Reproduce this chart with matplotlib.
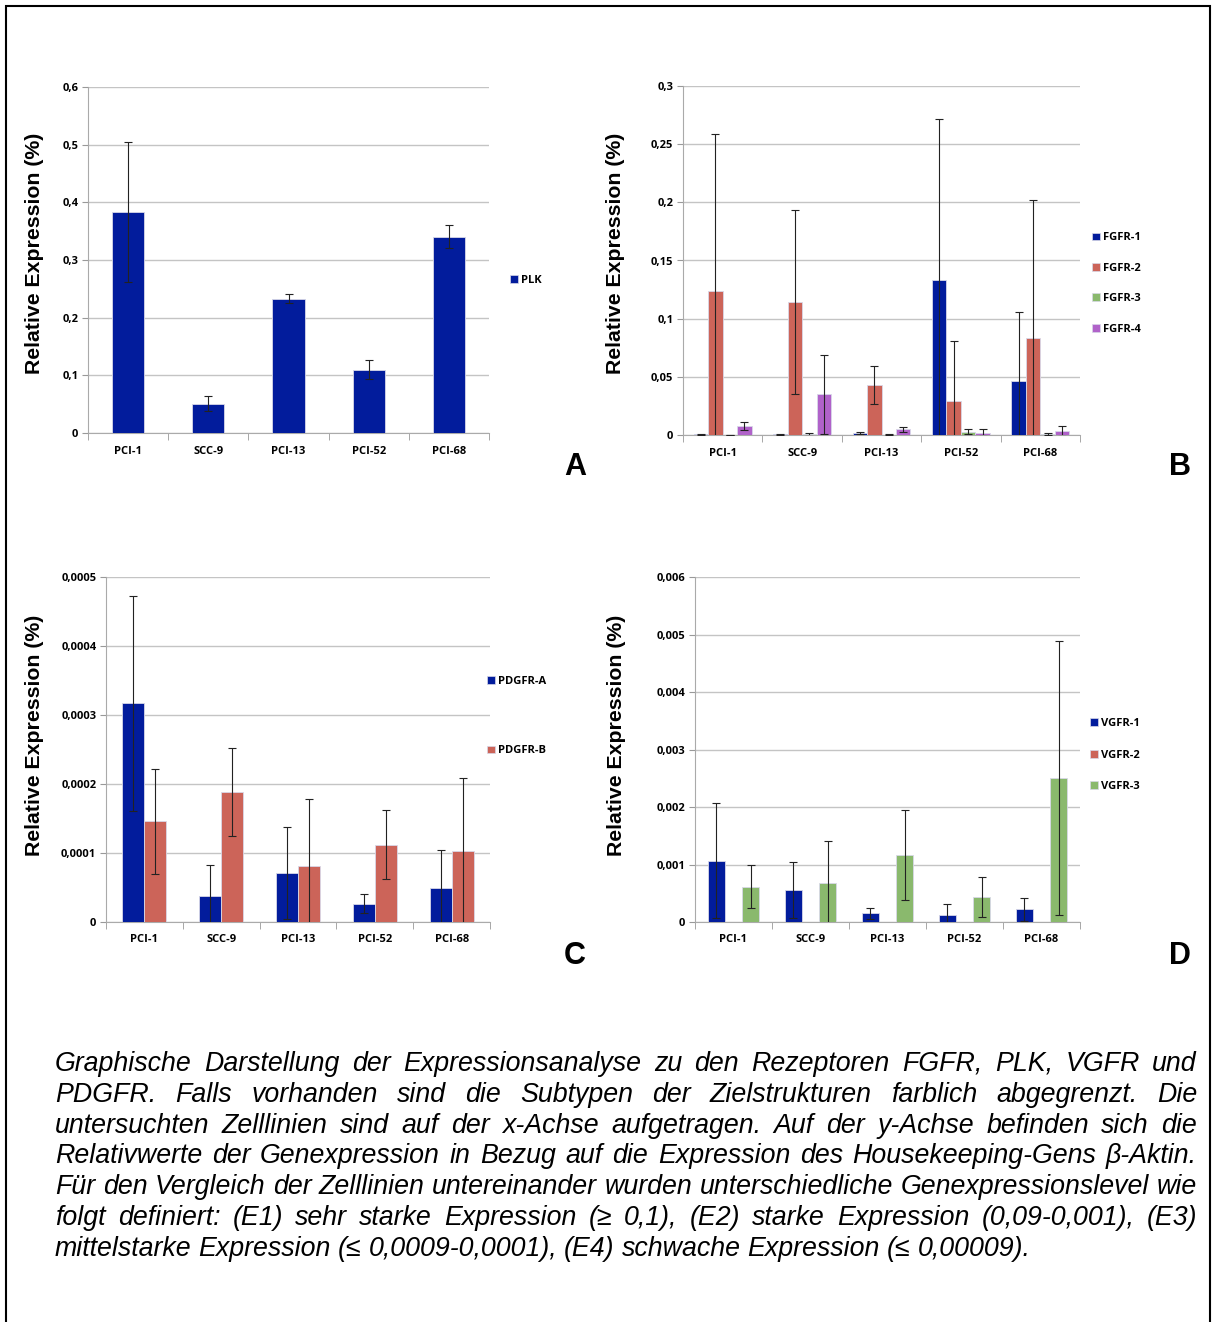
import numpy as np
import matplotlib
matplotlib.use('Agg')
import matplotlib.pyplot as plt
from matplotlib.patches import Rectangle, Patch
from matplotlib.ticker import FuncFormatter, MultipleLocator

# Zelllinien (x-Achse)
cell_lines = ['PCI-1', 'SCC-9', 'PCI-13', 'PCI-52', 'PCI-68']

# Panel A - PLK
plk = [0.383, 0.051, 0.233, 0.110, 0.340]
plk_err = [0.121, 0.013, 0.008, 0.017, 0.020]

# Panel B - FGFR 1-4
fgfr_names = ['FGFR-1', 'FGFR-2', 'FGFR-3', 'FGFR-4']
fgfr1 = [0.0008, 0.0005, 0.0015, 0.1334, 0.046]
fgfr1_err = [0.0004, 0.0003, 0.0010, 0.138, 0.060]
fgfr2 = [0.1237, 0.1143, 0.0429, 0.0294, 0.0837]
fgfr2_err = [0.135, 0.079, 0.016, 0.051, 0.1186]
fgfr3 = [0.0, 0.0005, 0.0003, 0.0030, 0.0008]
fgfr3_err = [0.0, 0.0015, 0.0002, 0.0025, 0.0005]
fgfr4 = [0.0077, 0.0351, 0.0050, 0.0020, 0.0034]
fgfr4_err = [0.0033, 0.034, 0.0020, 0.0030, 0.0040]

# Panel C - PDGFR A/B
pdgfr_names = ['PDGFR-A', 'PDGFR-B']
pdgfr_a = [0.000317, 0.0000381, 0.0000714, 0.0000265, 0.0000492]
pdgfr_a_err = [0.000156, 0.000044, 0.000067, 0.000014, 0.000055]
pdgfr_b = [0.0001458, 0.0001887, 0.0000806, 0.000112, 0.0001023]
pdgfr_b_err = [0.0000757, 0.0000637, 0.000098, 0.00005, 0.000107]

# Panel D - VGFR 1-3
vgfr_names = ['VGFR-1', 'VGFR-2', 'VGFR-3']
vgfr1 = [0.001065, 0.000555, 0.000150, 0.000122, 0.000226]
vgfr1_err = [0.001, 0.00049, 0.000093, 0.00019, 0.0002]
vgfr2 = [0.0, 0.0, 0.0, 0.0, 0.0]
vgfr2_err = [0.0, 0.0, 0.0, 0.0, 0.0]
vgfr3 = [0.000613, 0.000677, 0.001169, 0.000434, 0.0025]
vgfr3_err = [0.000376, 0.000735, 0.00078, 0.000353, 0.00238]

caption_lines = [
    'Graphische Darstellung der Expressionsanalyse zu den Rezeptoren FGFR, PLK, VGFR und',
    'PDGFR. Falls vorhanden sind die Subtypen der Zielstrukturen farblich abgegrenzt. Die',
    'untersuchten Zelllinien sind auf der x-Achse aufgetragen. Auf der y-Achse befinden sich die',
    'Relativwerte der Genexpression in Bezug auf die Expression des Housekeeping-Gens \u03b2-Aktin.',
    'F\u00fcr den Vergleich der Zelllinien untereinander wurden unterschiedliche Genexpressionslevel wie',
    'folgt definiert: (E1) sehr starke Expression (\u2265 0,1), (E2) starke Expression (0,09-0,001), (E3)',
    'mittelstarke Expression (\u2264 0,0009-0,0001), (E4) schwache Expression (\u2264 0,00009).',
]

BLUE = '#021c9c'
RED = '#cc6459'
GREEN = '#8ab96d'
PURPLE = '#b062c9'

W, H = 1212, 1322
fig = plt.figure(figsize=(W / 100, H / 100), dpi=100)

def px_axes(left, top, right, bottom):
    return fig.add_axes([left / W, 1 - bottom / H, (right - left) / W, (bottom - top) / H])

comma = FuncFormatter(lambda v, p: f'{v:g}'.replace('.', ','))

def panel(ax, series, errs, colors, names, ymax, ystep, leg_xy, leg_space, ylab_xy):
    n = len(series)
    w = 1 / (n + 1.5)
    x = np.arange(len(cell_lines))
    for i, (vals, e, c) in enumerate(zip(series, errs, colors)):
        pos = x - n * w / 2 + w * (i + 0.5)
        ax.bar(pos, vals, w, color=c, edgecolor='#d8d8e8', linewidth=0.6, zorder=3)
        if max(e) > 0:
            ax.errorbar(pos, vals, yerr=e, fmt='none', ecolor='#222222', elinewidth=0.8,
                        capsize=3, capthick=0.8, zorder=4)
    ax.set_xlim(-0.5, len(cell_lines) - 0.5)
    ax.set_ylim(0, ymax)
    ax.yaxis.set_major_locator(MultipleLocator(ystep))
    ax.yaxis.set_major_formatter(comma)
    ax.set_xticks(x)
    ax.set_xticklabels(cell_lines)
    ax.set_xticks(np.arange(-0.5, len(cell_lines)), minor=True)
    ax.tick_params(axis='x', which='major', length=0, pad=9)
    ax.tick_params(axis='x', which='minor', length=5, color='#999999', direction='out')
    ax.tick_params(axis='y', length=4, color='#999999', pad=3)
    for lab in ax.get_xticklabels() + ax.get_yticklabels():
        lab.set_fontsize(8)
        lab.set_fontweight('bold')
        lab.set_family('Open Sans')
    ax.grid(axis='y', color='#c4c4c4', linewidth=1, zorder=0)
    for s in ['top', 'right']:
        ax.spines[s].set_visible(False)
    ax.spines['left'].set_color('#aaaaaa')
    ax.spines['bottom'].set_color('#aaaaaa')
    ax.set_ylabel('Relative Expression (%)', fontsize=15.3, fontweight='bold',
                  family='Liberation Sans')
    ax.yaxis.set_label_coords(*ylab_xy)
    handles = [Patch(facecolor=c, edgecolor='#d8d8e8', linewidth=0.5) for c in colors]
    ax.legend(handles, names, loc='center left', bbox_to_anchor=leg_xy, frameon=False,
              handlelength=0.7, handleheight=0.7, handletextpad=0.3,
              labelspacing=leg_space, prop={'family': 'Open Sans', 'weight': 'bold', 'size': 8})
    return ax

axA = px_axes(88, 87, 489, 433)
panel(axA, [plk], [plk_err], [BLUE], ['PLK'], 0.6, 0.1, (1.027, 0.44), 1, (-0.11, 0.52))

axB = px_axes(683, 86, 1080, 435)
panel(axB, [fgfr1, fgfr2, fgfr3, fgfr4], [fgfr1_err, fgfr2_err, fgfr3_err, fgfr4_err],
      [BLUE, RED, GREEN, PURPLE], fgfr_names, 0.3, 0.05, (1.005, 0.434), 1.75, (-0.145, 0.52))

axC = px_axes(106, 577, 490, 922)
panel(axC, [pdgfr_a, pdgfr_b], [pdgfr_a_err, pdgfr_b_err], [BLUE, RED], pdgfr_names,
      0.0005, 0.0001, (0.967, 0.597), 5.3, (-0.161, 0.54))

axD = px_axes(695, 577, 1080, 922)
panel(axD, [vgfr1, vgfr2, vgfr3], [vgfr1_err, vgfr2_err, vgfr3_err], [BLUE, RED, GREEN],
      vgfr_names, 0.006, 0.001, (1.0, 0.484), 1.85, (-0.179, 0.54))

# Panel-Buchstaben
for letter, (lx, ly) in zip('ABCD', [(575, 467), (1180, 467), (575, 956), (1180, 956)]):
    fig.text(lx / W, 1 - ly / H, letter, fontsize=22, fontweight='bold', family='Liberation Sans',
             ha='center', va='center')

# Rahmen
fig.patches.append(Rectangle((6 / W, -0.01), (1210 - 6) / W, 1.01 - 6 / H, transform=fig.transFigure,
                             fill=False, edgecolor='black', linewidth=1.5))

# Bildunterschrift, Blocksatz
renderer = fig.canvas.get_renderer()
x0, x1 = 55, 1197
y0, dy = 1064, 30.8
for k, line in enumerate(caption_lines):
    words = line.split(' ')
    y = 1 - (y0 + k * dy) / H
    texts = [fig.text(0, y, wd, fontsize=19.3, style='italic', family='Liberation Sans', va='center')
             for wd in words]
    widths = [t.get_window_extent(renderer).width for t in texts]
    if k == len(caption_lines) - 1:
        gap = 7
    else:
        gap = (x1 - x0 - sum(widths)) / (len(words) - 1)
    xx = x0
    for t, wd in zip(texts, widths):
        t.set_x(xx / W)
        xx += wd + gap

fig.savefig('out.png', dpi=100)
